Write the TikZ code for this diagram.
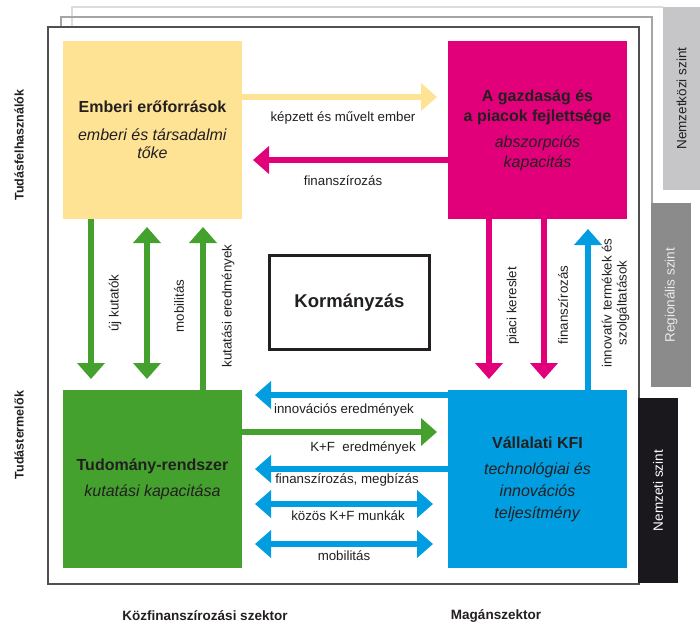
\documentclass[tikz,border=0pt]{standalone}
\usepackage{fontspec}
\setmainfont{Liberation Sans}
\usepackage{tikz}
\usetikzlibrary{arrows.meta,positioning}

\definecolor{emberi}{HTML}{FFE395}
\definecolor{gazdasag}{HTML}{E2007A}
\definecolor{tudomany}{HTML}{45A12E}
\definecolor{vallalati}{HTML}{009EE0}
\definecolor{szoveg}{HTML}{231F20}
\definecolor{nemzetkozi}{HTML}{C6C6C8}
\definecolor{regionalis}{HTML}{8B8B8C}
\definecolor{nemzeti}{HTML}{1B181D}

\begin{document}
\begin{tikzpicture}[x=1pt, y=-1pt, >={Triangle[width=27pt,length=16pt]},
    szektor/.style={minimum width=179pt, minimum height=178pt, inner sep=0pt, outer sep=0pt,
      align=center, text=szoveg, font=\fontsize{16}{18}\selectfont},
    folyam/.style={line width=6pt},
    cimke/.style={inner sep=0pt, text=szoveg, font=\fontsize{13.3}{15}\selectfont},
    oldal/.style={inner sep=0pt, text=szoveg, font=\fontsize{12.5}{15}\selectfont\bfseries},
    szint/.style={rotate=90, inner sep=0pt, font=\fontsize{13.5}{15}\selectfont}]

        \fill[white] (0,0) rectangle (700,625);
        \useasboundingbox (0,0) rectangle (700,625);

        % Frames of the levels
        \draw[line width=1.2pt, color={rgb,255:red,220;green,220;blue,221}] (663,7) -- (72,7) -- (72,30);
        \draw[line width=1.2pt, color={rgb,255:red,165;green,165;blue,167}] (652,210) -- (652,17) -- (61,17) -- (61,30);
        \draw[line width=1.5pt, color={rgb,255:red,80;green,80;blue,82}, fill=white] (48,27) rectangle (639,584);

        \node[szint, fill=nemzetkozi, text=szoveg, minimum width=183pt, minimum height=37pt] (nk) at (681.5,98.5) {Nemzetközi szint};
        \node[szint, fill=regionalis, text={rgb,255:red,235;green,235;blue,235}, minimum width=184pt, minimum height=40pt] (reg) at (671,295) {Regionális szint};
        \node[szint, fill=nemzeti, text=white, minimum width=185pt, minimum height=40pt] (nemz) at (658,490.5) {Nemzeti szint};

        % Sectors
        \node[szektor, fill=emberi] (ember) at (152.5,130)
          {\textbf{Emberi erőforrások}\\[10pt]\textit{emberi és társadalmi}\\\textit{tőke}};
        \node[szektor, fill=gazdasag, font=\fontsize{16}{20}\selectfont] (gazd) at (537.5,130)
          {\textbf{A gazdaság és}\\\textbf{a piacok fejlettsége}\\[6pt]\textit{abszorpciós}\\\textit{kapacitás}};
        \node[szektor, fill=tudomany] (tud) at (152.5,479)
          {\textbf{Tudomány-rendszer}\\[8pt]\textit{kutatási kapacitása}};
        \node[szektor, fill=vallalati, font=\fontsize{16}{22}\selectfont] (vall) at (537.5,479)
          {\textbf{Vállalati KFI}\\[4pt]\textit{technológiai és}\\\textit{innovációs}\\\textit{teljesítmény}};

        \node[draw=szoveg, line width=2.6pt, minimum width=160pt, minimum height=94pt, text=szoveg,
          font=\fontsize{18.5}{22}\selectfont\bfseries] (korm) at (349.5,302.5) {Kormányzás};

        % Top flows
        \draw[folyam, emberi, ->, shorten >=11pt] (ember.east |- 0,97) -- (gazd.west |- 0,97);
        \draw[folyam, gazdasag, ->, shorten >=11pt] (gazd.west |- 0,160) -- (ember.east |- 0,160);
        \node[cimke] (l1) at (343,118) {képzett és művelt ember};
        \node[cimke] (l2) at (343,181) {finanszírozás};

        % Left flows
        \draw[folyam, tudomany, ->, shorten >=11pt] (ember.south -| 91,0) -- (tud.north -| 91,0);
        \draw[folyam, tudomany, <->, shorten <=8pt, shorten >=11pt] (ember.south -| 147,0) -- (tud.north -| 147,0);
        \draw[folyam, tudomany, ->, shorten >=8pt] (tud.north -| 203,0) -- (ember.south -| 203,0);
        \node[cimke, rotate=90] (l3) at (115,303) {új kutatók};
        \node[cimke, rotate=90] (l4) at (179,306) {mobilitás};
        \node[cimke, rotate=90] (l5) at (228,306) {kutatási eredmények};

        % Right flows
        \draw[folyam, gazdasag, ->, shorten >=11pt] (gazd.south -| 489,0) -- (vall.north -| 489,0);
        \draw[folyam, gazdasag, ->, shorten >=11pt] (gazd.south -| 544,0) -- (vall.north -| 544,0);
        \draw[folyam, vallalati, ->, shorten >=10pt] (vall.north -| 588,0) -- (gazd.south -| 588,0);
        \node[cimke, rotate=90] (l6) at (513,306) {piaci kereslet};
        \node[cimke, rotate=90] (l7) at (563,305) {finanszírozás};
        \node[cimke, rotate=90, align=center] (l8) at (615.5,303) {innovatív termékek és\\szolgáltatások};

        % Bottom flows
        \draw[folyam, vallalati, ->, shorten >=13pt] (vall.west |- 0,395) -- (tud.east |- 0,395);
        \draw[folyam, tudomany, ->, shorten >=11pt] (tud.east |- 0,432) -- (vall.west |- 0,432);
        \draw[folyam, vallalati, ->, shorten >=13pt] (vall.west |- 0,469) -- (tud.east |- 0,469);
        \draw[folyam, vallalati, <->, shorten <=15pt, shorten >=13pt] (vall.west |- 0,504) -- (tud.east |- 0,504);
        \draw[folyam, vallalati, <->, shorten <=15pt, shorten >=13pt] (vall.west |- 0,544) -- (tud.east |- 0,544);
        \node[cimke] (l9) at (344,410) {innovációs eredmények};
        \node[cimke] (l10) at (363,448) {K+F\ \ eredmények};
        \node[cimke] (l11) at (347,480) {finanszírozás, megbízás};
        \node[cimke] (l12) at (348,516) {közös K+F munkák};
        \node[cimke] (l13) at (344,556) {mobilitás};

        % Axes
        \node[oldal, rotate=90] (felh) at (19,145) {Tudásfelhasználók};
        \node[oldal, rotate=90] (term) at (19,435) {Tudástermelők};
        \node[oldal, font=\fontsize{13.5}{15}\selectfont\bfseries] (koz) at (205,616) {Közfinanszírozási szektor};
        \node[oldal, font=\fontsize{13.5}{15}\selectfont\bfseries] (mag) at (496,616) {Magánszektor};

    \end{tikzpicture}
\end{document}
